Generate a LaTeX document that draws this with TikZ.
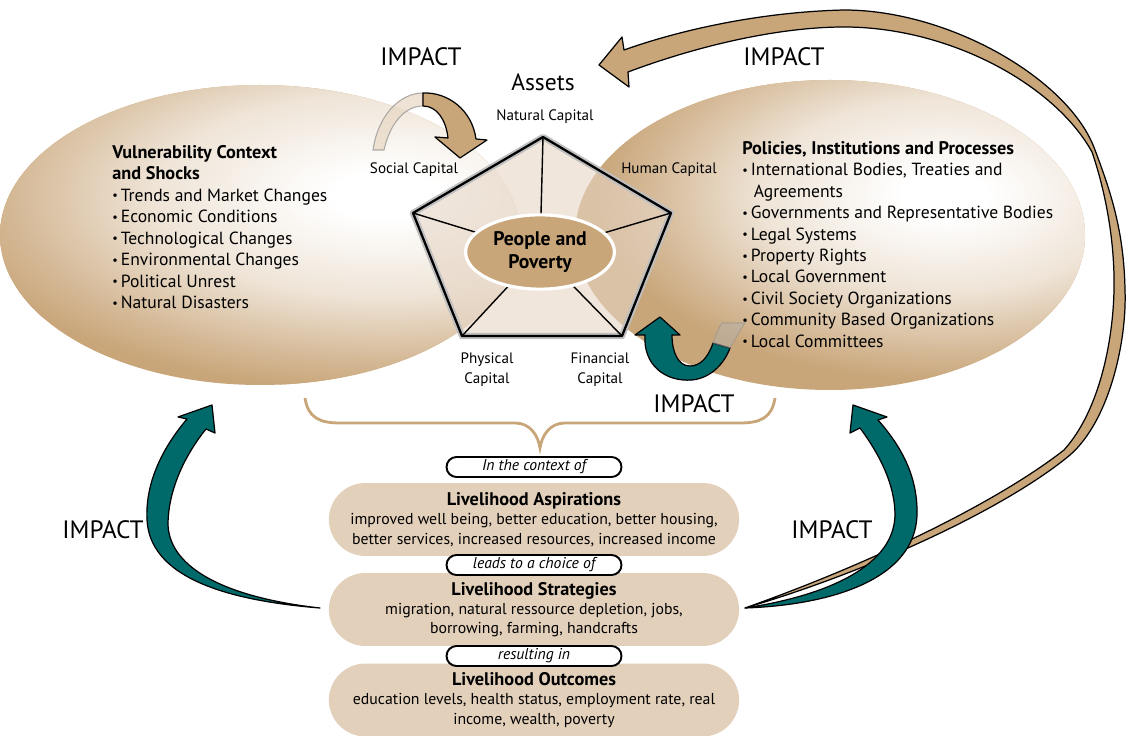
\documentclass[tikz,border=0pt]{standalone}
\usepackage{fontspec}
\setmainfont{PT Sans}
\usepackage{graphicx}
\usepackage{tikz}
\usetikzlibrary{shapes.geometric,shapes.misc,positioning,calc}

\definecolor{tanC}{RGB}{201,166,122}
\definecolor{pillC}{RGB}{227,208,187}
\definecolor{tealC}{RGB}{0,106,107}
\definecolor{pentC}{RGB}{230,213,197}

\pgfdeclareradialshading{glow}{\pgfpoint{0bp}{0bp}}{color(0bp)=(white); color(3bp)=(white); color(13bp)=(tanC!30!white); color(21bp)=(tanC!78!white); color(25bp)=(tanC); color(50bp)=(tanC)}

\newcommand{\bul}{\raisebox{.15ex}{\scalebox{.7}{\textbullet}}\,}
\newcommand{\hd}[1]{{\fontsize{10.4}{12.2}\selectfont\bfseries #1}}

\begin{document}
\begin{tikzpicture}[x=0.02cm,y=-0.02cm,
  impact/.style={font=\fontsize{14.3}{17}\selectfont},
  caplabel/.style={font=\fontsize{8.6}{11.3}\selectfont,align=center},
  listtext/.style={font=\fontsize{10}{12.2}\selectfont,align=left,anchor=north west,inner sep=0pt},
  pill/.style={rounded rectangle,fill=pillC,minimum width=8.44cm,minimum height=1.46cm,align=center,font=\fontsize{9}{11}\selectfont},
  tagpill/.style={rounded rectangle,draw,line width=1.1pt,fill=white,minimum width=3.5cm,minimum height=0.4cm,inner sep=0pt,font=\fontsize{8.9}{10}\selectfont\itshape},
  ribbon/.style={draw=black,line width=0.7pt,line join=round}]
  \useasboundingbox (0,0) rectangle (1129,736);

  % the two context ellipses, lit from the top right
  \fill[tanC] (260,235) ellipse (260 and 150);
  \begin{scope}
    \clip (260,235) ellipse (260 and 150);
    \shade[shading=glow] (385,195) ellipse (440 and 195);
  \end{scope}
  \fill[tanC] (830,235) ellipse (255 and 155);
  \begin{scope}
    \clip (830,235) ellipse (255 and 155);
    \shade[shading=glow] (945,195) ellipse (350 and 185);
  \end{scope}

  % long feedback arrow from the strategies back to the assets
  \filldraw[ribbon,fill=tanC] (745,608) .. controls (880,568) and (1010,505) .. (1070,455)
    .. controls (1110,420) and (1127,340) .. (1125,290) .. controls (1124,230) and (1110,190) .. (1095,150)
    .. controls (1070,80) and (950,10) .. (844,10) .. controls (760,12) and (680,30) .. (624,50)
    -- (622,37) -- (599,65) -- (629,87) -- (628,72)
    .. controls (700,45) and (780,27) .. (844,27) .. controls (950,27) and (1055,85) .. (1092,152)
    .. controls (1105,190) and (1115,240) .. (1114,290) .. controls (1113,340) and (1100,410) .. (1064,450)
    .. controls (1000,500) and (880,560) .. (745,608) -- cycle;

  % assets pentagon
  \coordinate (natv) at (543,137);
  \coordinate (humv) at (671,213);
  \coordinate (finv) at (622,336);
  \coordinate (phyv) at (462,336);
  \coordinate (socv) at (413,213);
  \coordinate (pc) at (540,252);
  \fill[pentC,opacity=.6] (natv) -- (humv) -- (finv) -- (phyv) -- (socv) -- cycle;
  \draw[black!25,line width=3.6pt,line join=round] (natv) -- (humv) -- (finv) -- (phyv) -- (socv) -- cycle;
  \draw[line width=1.3pt,line join=round] (natv) -- (humv) -- (finv) -- (phyv) -- (socv) -- cycle;
  \foreach \v in {natv,humv,finv,phyv,socv}
    \draw[line width=0.8pt] (pc) -- (\v);
  \node[ellipse,fill=tanC,draw=white,line width=1.8pt,minimum width=2.68cm,minimum height=1.44cm,
    align=center,font=\fontsize{11.2}{13}\selectfont\bfseries] (people) at (pc) {People and\\Poverty};

  \node[font=\fontsize{13.4}{16}\selectfont] (assets) at (543,82) {Assets};
  \node[caplabel] (natural) at (545,117) {Natural Capital};
  \node[caplabel] (social) at (414,170) {Social Capital};
  \node[caplabel] (human) at (669,170) {Human Capital};
  \node[caplabel] (physical) at (487,370) {Physical\\Capital};
  \node[caplabel] (financial) at (600,370) {Financial\\Capital};

  % small impact arrows
  \filldraw[draw=black!45,line width=0.6pt,fill=tanC!45!white,opacity=.7] (423,93) .. controls (400,93) and (378,115) .. (373,150)
    -- (384,150) .. controls (390,123) and (405,106) .. (423,106) -- cycle;
  \filldraw[ribbon,fill=tanC] (476,139) .. controls (472,110) and (448,92) .. (423,93) -- (423,106)
    .. controls (437,106) and (446,120) .. (448,138) -- (435,137) -- (460,158) -- (487,140) -- cycle;
  \filldraw[ribbon,fill=tealC] (645,335) .. controls (643,365) and (665,382) .. (692,380)
    .. controls (712,378) and (725,362) .. (730,348) -- (713,343)
    .. controls (708,358) and (700,366) .. (690,366) .. controls (678,366) and (672,352) .. (672,335)
    -- (680,335) -- (660,317) -- (635,335) -- cycle;
  \filldraw[draw=black!45,line width=0.6pt,fill=black!30,opacity=.45] (730,348) -- (713,343)
    .. controls (718,330) and (720,325) .. (722,323) -- (745,323) .. controls (740,330) and (735,340) .. (730,348) -- cycle;

  % text of the ellipses
  \node[listtext] (vuln) at (112,145) {\hd{Vulnerability Context}\\\hd{and Shocks}\\
    \bul Trends and Market Changes\\\bul Economic Conditions\\\bul Technological Changes\\
    \bul Environmental Changes\\\bul Political Unrest\\\bul Natural Disasters};
  \node[listtext] (policy) at (742,141) {\hd{Policies, Institutions and Processes}\\
    \bul International Bodies, Treaties and\\\hspace*{1.3ex}Agreements\\
    \bul Governments and Representative Bodies\\\bul Legal Systems\\\bul Property Rights\\
    \bul Local Government\\\bul Civil Society Organizations\\\bul Community Based Organizations\\
    \bul Local Committees};

  % brace over the livelihood boxes
  \draw[tanC,line width=1.6pt] (305,398) .. controls (308,418) and (320,423) .. (340,423) -- (515,423)
    .. controls (530,423) and (538,435) .. (540,448) .. controls (542,435) and (550,423) .. (565,423)
    -- (740,423) .. controls (760,423) and (772,418) .. (775,398);

  % livelihood boxes
  \node[pill] (aspire) at (534,519.5) {\hd{Livelihood Aspirations}\\improved well being, better education, better housing,\\better services, increased resources, increased income};
  \node[pill] (strat) at (534,609.5) {\hd{Livelihood Strategies}\\migration, natural ressource depletion, jobs,\\borrowing, farming, handcrafts};
  \node[pill] (outcome) at (534,700) {\hd{Livelihood Outcomes}\\education levels, health status, employment rate, real\\income, wealth, poverty};
  \node[tagpill] (context) at (534,467) {In the context of};
  \node[tagpill] (choice) at (534,565) {leads to a choice of};
  \node[tagpill] (result) at (534,656) {resulting in};

  % big impact arrows from the strategies
  \filldraw[ribbon,fill=tealC] (320,608) .. controls (220,600) and (150,575) .. (147,520)
    .. controls (145,480) and (165,445) .. (187,419) -- (178,417) -- (212,405) -- (215,433) -- (206,429)
    .. controls (185,455) and (168,490) .. (168,525) .. controls (170,570) and (230,598) .. (320,608) -- cycle;
  \filldraw[ribbon,fill=tealC] (745,608) .. controls (830,605) and (915,580) .. (917,515)
    .. controls (918,475) and (900,445) .. (878,420) -- (887,417) -- (853,405) -- (850,433) -- (860,428)
    .. controls (880,455) and (895,485) .. (895,515) .. controls (894,565) and (830,595) .. (745,608) -- cycle;

  \node[impact] (imp1) at (421,57) {IMPACT};
  \node[impact] (imp2) at (784,57) {IMPACT};
  \node[impact] (imp3) at (694,404) {IMPACT};
  \node[impact] (imp4) at (103,530) {IMPACT};
  \node[impact] (imp5) at (832,530) {IMPACT};
\end{tikzpicture}
\end{document}
